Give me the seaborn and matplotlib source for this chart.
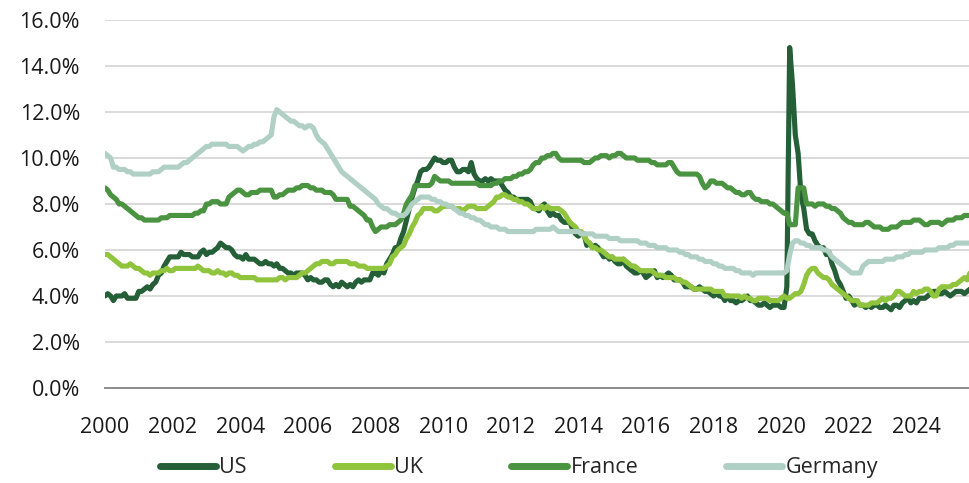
import numpy as np
import pandas as pd
import seaborn as sns
import matplotlib.pyplot as plt
from matplotlib.ticker import FuncFormatter

# monthly unemployment rates, Jan 2000 - Aug 2025 (%)
us = [
    4.0, 4.1, 4.0, 3.8, 4.0, 4.0, 4.0, 4.1, 3.9, 3.9, 3.9, 3.9,
    4.2, 4.2, 4.3, 4.4, 4.3, 4.5, 4.6, 4.9, 5.0, 5.3, 5.5, 5.7,
    5.7, 5.7, 5.7, 5.9, 5.8, 5.8, 5.8, 5.7, 5.7, 5.7, 5.9, 6.0,
    5.8, 5.9, 5.9, 6.0, 6.1, 6.3, 6.2, 6.1, 6.1, 6.0, 5.8, 5.7,
    5.7, 5.6, 5.8, 5.6, 5.6, 5.6, 5.5, 5.4, 5.4, 5.5, 5.4, 5.4,
    5.3, 5.4, 5.2, 5.2, 5.1, 5.0, 5.0, 4.9, 5.0, 5.0, 5.0, 4.9,
    4.7, 4.8, 4.7, 4.7, 4.6, 4.6, 4.7, 4.7, 4.5, 4.4, 4.5, 4.4,
    4.6, 4.5, 4.4, 4.5, 4.4, 4.6, 4.7, 4.6, 4.7, 4.7, 4.7, 5.0,
    5.0, 4.9, 5.1, 5.0, 5.4, 5.6, 5.8, 6.1, 6.1, 6.5, 6.8, 7.3,
    7.8, 8.3, 8.7, 9.0, 9.4, 9.5, 9.5, 9.6, 9.8, 10.0, 9.9, 9.9,
    9.8, 9.8, 9.9, 9.9, 9.6, 9.4, 9.4, 9.5, 9.5, 9.4, 9.8, 9.3,
    9.1, 9.0, 9.0, 9.1, 9.0, 9.1, 9.0, 9.0, 9.0, 8.8, 8.6, 8.5,
    8.3, 8.3, 8.2, 8.2, 8.2, 8.2, 8.2, 8.1, 7.8, 7.8, 7.7, 7.9,
    8.0, 7.7, 7.5, 7.6, 7.5, 7.5, 7.3, 7.2, 7.2, 7.2, 6.9, 6.7,
    6.6, 6.7, 6.7, 6.2, 6.3, 6.1, 6.2, 6.1, 5.9, 5.7, 5.8, 5.6,
    5.7, 5.5, 5.4, 5.4, 5.6, 5.3, 5.2, 5.1, 5.0, 5.0, 5.1, 5.0,
    4.8, 4.9, 5.0, 5.1, 4.8, 4.9, 4.8, 4.9, 5.0, 4.9, 4.7, 4.7,
    4.7, 4.6, 4.4, 4.4, 4.4, 4.3, 4.3, 4.4, 4.3, 4.2, 4.2, 4.1,
    4.0, 4.1, 4.0, 4.0, 3.8, 4.0, 3.8, 3.8, 3.7, 3.8, 3.8, 3.9,
    4.0, 3.8, 3.8, 3.7, 3.6, 3.6, 3.7, 3.6, 3.5, 3.6, 3.6, 3.6,
    3.5, 3.5, 4.4, 14.8, 13.2, 11.0, 10.2, 8.4, 7.8, 6.9, 6.7, 6.7,
    6.4, 6.2, 6.1, 6.1, 5.8, 5.9, 5.4, 5.1, 4.7, 4.5, 4.2, 3.9,
    4.0, 3.8, 3.6, 3.7, 3.6, 3.6, 3.5, 3.6, 3.5, 3.6, 3.6, 3.5,
    3.5, 3.6, 3.5, 3.4, 3.6, 3.6, 3.5, 3.7, 3.8, 3.9, 3.7, 3.8,
    3.7, 3.9, 3.9, 3.9, 4.0, 4.1, 4.2, 4.2, 4.1, 4.1, 4.2, 4.1,
    4.0, 4.1, 4.2, 4.2, 4.2, 4.1, 4.2, 4.3,
]

uk = [
    5.8, 5.8, 5.7, 5.6, 5.5, 5.4, 5.3, 5.3, 5.3, 5.4, 5.3, 5.2,
    5.2, 5.1, 5.0, 5.0, 4.9, 5.0, 5.0, 5.0, 5.1, 5.1, 5.2, 5.1,
    5.1, 5.2, 5.2, 5.2, 5.2, 5.2, 5.2, 5.2, 5.2, 5.3, 5.2, 5.1,
    5.1, 5.1, 5.0, 5.0, 5.1, 5.0, 5.0, 4.9, 5.0, 5.0, 4.9, 4.9,
    4.8, 4.8, 4.8, 4.8, 4.8, 4.8, 4.7, 4.7, 4.7, 4.7, 4.7, 4.7,
    4.7, 4.7, 4.8, 4.8, 4.7, 4.8, 4.8, 4.8, 4.8, 4.9, 5.0, 5.0,
    5.1, 5.2, 5.3, 5.4, 5.4, 5.5, 5.5, 5.5, 5.4, 5.4, 5.5, 5.5,
    5.5, 5.5, 5.5, 5.4, 5.4, 5.4, 5.3, 5.3, 5.3, 5.2, 5.2, 5.2,
    5.2, 5.2, 5.2, 5.2, 5.3, 5.4, 5.7, 5.8, 6.0, 6.1, 6.2, 6.5,
    6.7, 7.0, 7.2, 7.5, 7.6, 7.8, 7.8, 7.8, 7.8, 7.7, 7.7, 7.8,
    7.9, 7.9, 7.9, 7.9, 7.8, 7.8, 7.8, 7.7, 7.8, 7.9, 7.9, 7.9,
    7.8, 7.8, 7.8, 7.8, 7.9, 8.0, 8.1, 8.3, 8.3, 8.4, 8.4, 8.3,
    8.3, 8.2, 8.2, 8.1, 8.1, 8.0, 8.0, 7.9, 7.8, 7.8, 7.8, 7.9,
    7.8, 7.9, 7.8, 7.8, 7.8, 7.8, 7.7, 7.6, 7.4, 7.2, 7.1, 7.0,
    6.8, 6.8, 6.6, 6.4, 6.3, 6.1, 6.1, 6.0, 6.0, 5.9, 5.8, 5.7,
    5.7, 5.6, 5.6, 5.6, 5.6, 5.5, 5.4, 5.3, 5.3, 5.2, 5.1, 5.1,
    5.1, 5.1, 5.1, 5.0, 4.9, 4.9, 4.9, 4.8, 4.8, 4.8, 4.8, 4.7,
    4.7, 4.6, 4.6, 4.5, 4.4, 4.3, 4.3, 4.3, 4.3, 4.3, 4.3, 4.3,
    4.2, 4.2, 4.2, 4.2, 4.0, 4.0, 4.0, 4.0, 4.0, 4.0, 3.9, 4.0,
    3.9, 3.9, 3.8, 3.8, 3.9, 3.9, 3.9, 3.9, 3.8, 3.8, 3.8, 3.8,
    3.9, 4.0, 3.9, 3.9, 4.0, 4.1, 4.1, 4.2, 4.5, 4.9, 5.1, 5.2,
    5.2, 5.0, 4.9, 4.8, 4.8, 4.7, 4.5, 4.4, 4.3, 4.2, 4.1, 4.0,
    3.9, 3.8, 3.8, 3.8, 3.6, 3.6, 3.6, 3.6, 3.7, 3.7, 3.7, 3.8,
    3.9, 3.8, 3.9, 3.9, 4.0, 4.2, 4.2, 4.1, 4.0, 4.0, 4.0, 4.2,
    4.1, 4.2, 4.2, 4.3, 4.3, 4.2, 4.0, 4.0, 4.3, 4.4, 4.4, 4.4,
    4.4, 4.5, 4.5, 4.6, 4.7, 4.8, 4.7, 5.0,
]

france = [
    8.7, 8.6, 8.4, 8.3, 8.2, 8.0, 8.0, 7.9, 7.8, 7.7, 7.6, 7.5,
    7.4, 7.4, 7.3, 7.3, 7.3, 7.3, 7.3, 7.3, 7.4, 7.4, 7.4, 7.5,
    7.5, 7.5, 7.5, 7.5, 7.5, 7.5, 7.5, 7.5, 7.6, 7.6, 7.7, 7.7,
    8.0, 8.0, 8.1, 8.1, 8.1, 8.0, 8.0, 8.0, 8.3, 8.4, 8.5, 8.6,
    8.6, 8.5, 8.4, 8.4, 8.5, 8.5, 8.5, 8.6, 8.6, 8.6, 8.6, 8.6,
    8.3, 8.3, 8.4, 8.4, 8.5, 8.6, 8.6, 8.6, 8.7, 8.7, 8.8, 8.8,
    8.8, 8.7, 8.7, 8.6, 8.6, 8.6, 8.5, 8.5, 8.5, 8.4, 8.2, 8.2,
    8.2, 8.2, 8.2, 7.9, 7.9, 7.8, 7.7, 7.6, 7.5, 7.3, 7.3, 7.0,
    6.8, 6.9, 7.0, 7.0, 7.0, 7.1, 7.1, 7.1, 7.2, 7.3, 7.6, 8.0,
    8.2, 8.4, 8.8, 8.8, 8.8, 8.8, 8.8, 8.8, 8.9, 9.2, 9.1, 9.0,
    9.0, 9.0, 9.0, 8.9, 8.9, 8.9, 8.9, 8.9, 8.9, 8.9, 8.9, 8.9,
    8.9, 8.8, 8.8, 8.8, 8.8, 8.8, 8.9, 8.9, 9.0, 9.0, 9.1, 9.1,
    9.1, 9.2, 9.2, 9.3, 9.3, 9.4, 9.4, 9.5, 9.7, 9.8, 9.8, 10.0,
    10.0, 10.1, 10.1, 10.2, 10.2, 10.0, 9.9, 9.9, 9.9, 9.9, 9.9, 9.9,
    9.9, 9.9, 9.8, 9.8, 9.8, 9.9, 10.0, 10.0, 10.1, 10.1, 10.1, 10.0,
    10.1, 10.1, 10.2, 10.2, 10.1, 10.0, 10.0, 10.0, 10.0, 9.9, 9.9, 9.9,
    9.9, 9.9, 9.8, 9.8, 9.7, 9.7, 9.7, 9.7, 9.8, 9.8, 9.6, 9.4,
    9.3, 9.3, 9.3, 9.3, 9.3, 9.3, 9.3, 9.2, 8.9, 8.7, 8.8, 9.0,
    9.0, 8.9, 8.9, 8.9, 8.8, 8.7, 8.7, 8.6, 8.5, 8.5, 8.4, 8.4,
    8.5, 8.5, 8.3, 8.2, 8.2, 8.1, 8.1, 8.1, 8.0, 8.0, 7.9, 7.8,
    7.7, 7.6, 7.6, 7.1, 7.1, 7.1, 8.7, 8.7, 8.7, 8.0, 8.0, 8.0,
    7.9, 8.0, 8.0, 8.0, 7.9, 7.9, 7.8, 7.8, 7.7, 7.6, 7.4, 7.3,
    7.2, 7.2, 7.1, 7.1, 7.1, 7.1, 7.2, 7.2, 7.1, 7.0, 7.0, 7.0,
    6.9, 6.9, 6.9, 7.0, 7.0, 7.0, 7.1, 7.2, 7.2, 7.2, 7.2, 7.3,
    7.3, 7.3, 7.2, 7.1, 7.1, 7.2, 7.2, 7.2, 7.2, 7.1, 7.2, 7.3,
    7.3, 7.3, 7.4, 7.4, 7.4, 7.5, 7.5, 7.5,
]

germany = [
    10.2, 10.1, 10.0, 9.6, 9.6, 9.5, 9.5, 9.5, 9.4, 9.4, 9.3, 9.3,
    9.3, 9.3, 9.3, 9.3, 9.3, 9.4, 9.4, 9.4, 9.5, 9.6, 9.6, 9.6,
    9.6, 9.6, 9.6, 9.7, 9.8, 9.8, 9.9, 10.0, 10.1, 10.2, 10.3, 10.4,
    10.5, 10.5, 10.6, 10.6, 10.6, 10.6, 10.6, 10.6, 10.5, 10.5, 10.5, 10.5,
    10.4, 10.3, 10.4, 10.5, 10.5, 10.6, 10.6, 10.7, 10.7, 10.8, 10.9, 11.0,
    11.8, 12.1, 12.0, 11.9, 11.8, 11.7, 11.6, 11.6, 11.5, 11.4, 11.4, 11.3,
    11.4, 11.4, 11.3, 11.0, 10.8, 10.7, 10.6, 10.4, 10.2, 10.0, 9.8, 9.6,
    9.4, 9.3, 9.2, 9.1, 9.0, 8.9, 8.8, 8.7, 8.6, 8.5, 8.4, 8.3,
    8.2, 8.0, 7.9, 7.8, 7.8, 7.7, 7.6, 7.6, 7.5, 7.5, 7.5, 7.6,
    7.8, 8.0, 8.1, 8.2, 8.3, 8.3, 8.3, 8.3, 8.2, 8.2, 8.1, 8.1,
    8.0, 8.0, 7.9, 7.9, 7.8, 7.7, 7.6, 7.6, 7.5, 7.5, 7.4, 7.4,
    7.3, 7.3, 7.2, 7.1, 7.1, 7.0, 7.0, 7.0, 6.9, 6.9, 6.9, 6.8,
    6.8, 6.8, 6.8, 6.8, 6.8, 6.8, 6.8, 6.8, 6.8, 6.9, 6.9, 6.9,
    6.9, 6.9, 6.9, 7.0, 6.9, 6.8, 6.8, 6.8, 6.8, 6.8, 6.8, 6.8,
    6.8, 6.7, 6.7, 6.7, 6.7, 6.7, 6.6, 6.6, 6.6, 6.6, 6.6, 6.5,
    6.5, 6.5, 6.5, 6.4, 6.4, 6.4, 6.4, 6.4, 6.4, 6.4, 6.3, 6.3,
    6.3, 6.2, 6.2, 6.2, 6.1, 6.1, 6.1, 6.1, 6.0, 6.0, 6.0, 6.0,
    5.9, 5.9, 5.8, 5.8, 5.7, 5.7, 5.7, 5.6, 5.6, 5.5, 5.5, 5.5,
    5.4, 5.4, 5.3, 5.3, 5.2, 5.2, 5.2, 5.2, 5.1, 5.1, 5.0, 5.0,
    5.0, 5.0, 4.9, 5.0, 5.0, 5.0, 5.0, 5.0, 5.0, 5.0, 5.0, 5.0,
    5.0, 5.0, 5.1, 5.8, 6.3, 6.4, 6.4, 6.3, 6.3, 6.2, 6.2, 6.1,
    6.1, 6.1, 6.1, 6.0, 6.0, 5.9, 5.7, 5.6, 5.5, 5.4, 5.3, 5.2,
    5.1, 5.0, 5.0, 5.0, 5.0, 5.3, 5.4, 5.5, 5.5, 5.5, 5.5, 5.5,
    5.5, 5.6, 5.6, 5.6, 5.6, 5.7, 5.7, 5.7, 5.8, 5.8, 5.9, 5.9,
    5.9, 5.9, 5.9, 6.0, 6.0, 6.0, 6.0, 6.0, 6.1, 6.1, 6.1, 6.1,
    6.2, 6.2, 6.3, 6.3, 6.3, 6.3, 6.3, 6.3,
]

countries = ['US', 'UK', 'France', 'Germany']
colors = ['#245f38', '#8fc43c', '#4a9340', '#b1d0c5']
year_ticks = list(range(2000, 2025, 2))

# %%
n = len(us)
t = 2000 + np.arange(n) / 12
df = pd.DataFrame({'t': t, 'US': us, 'UK': uk, 'France': france, 'Germany': germany})
long_df = df.melt(id_vars='t', var_name='country', value_name='rate')

sns.set_style('white')
plt.rcParams['font.family'] = ['Open Sans', 'DejaVu Sans']

fig = plt.figure(figsize=(9.7, 4.83), dpi=100)
ax = fig.add_axes([0.1082, 0.1967, 0.8918, 0.762])

sns.lineplot(data=long_df, x='t', y='rate', hue='country', hue_order=countries,
             palette=colors, linewidth=3.7, ax=ax, legend=False,
             solid_capstyle='round', solid_joinstyle='round')

ax.set_xlim(2000, t[-1])
ax.set_ylim(0, 16)
ax.set_yticks(np.arange(0, 17, 2))
ax.yaxis.set_major_formatter(FuncFormatter(lambda v, p: f'{v:.1f}%'))
ax.set_xticks(year_ticks)
ax.set_xticklabels([str(y) for y in year_ticks])
ax.set_xlabel('')
ax.set_ylabel('')
ax.grid(axis='y', color='#d9d9d9', linewidth=1.4)
ax.set_axisbelow(True)
for s in ['top', 'right', 'left']:
    ax.spines[s].set_visible(False)
ax.spines['bottom'].set_color('#8c8c8c')
ax.spines['bottom'].set_linewidth(1.4)
ax.tick_params(axis='both', length=0, labelsize=15.5, colors='#1a1a1a')
ax.tick_params(axis='y', pad=18)
ax.tick_params(axis='x', pad=21)

# legend below the plot
handles = [plt.Line2D([], [], color=c, linewidth=5, solid_capstyle='round') for c in colors]
fig.legend(handles, countries, loc='center', bbox_to_anchor=(0.535, 0.032), ncol=4,
           frameon=False, fontsize=15.5, handlelength=2.6, handletextpad=0.15,
           columnspacing=4.1)

fig.savefig('out.png', dpi=100)
